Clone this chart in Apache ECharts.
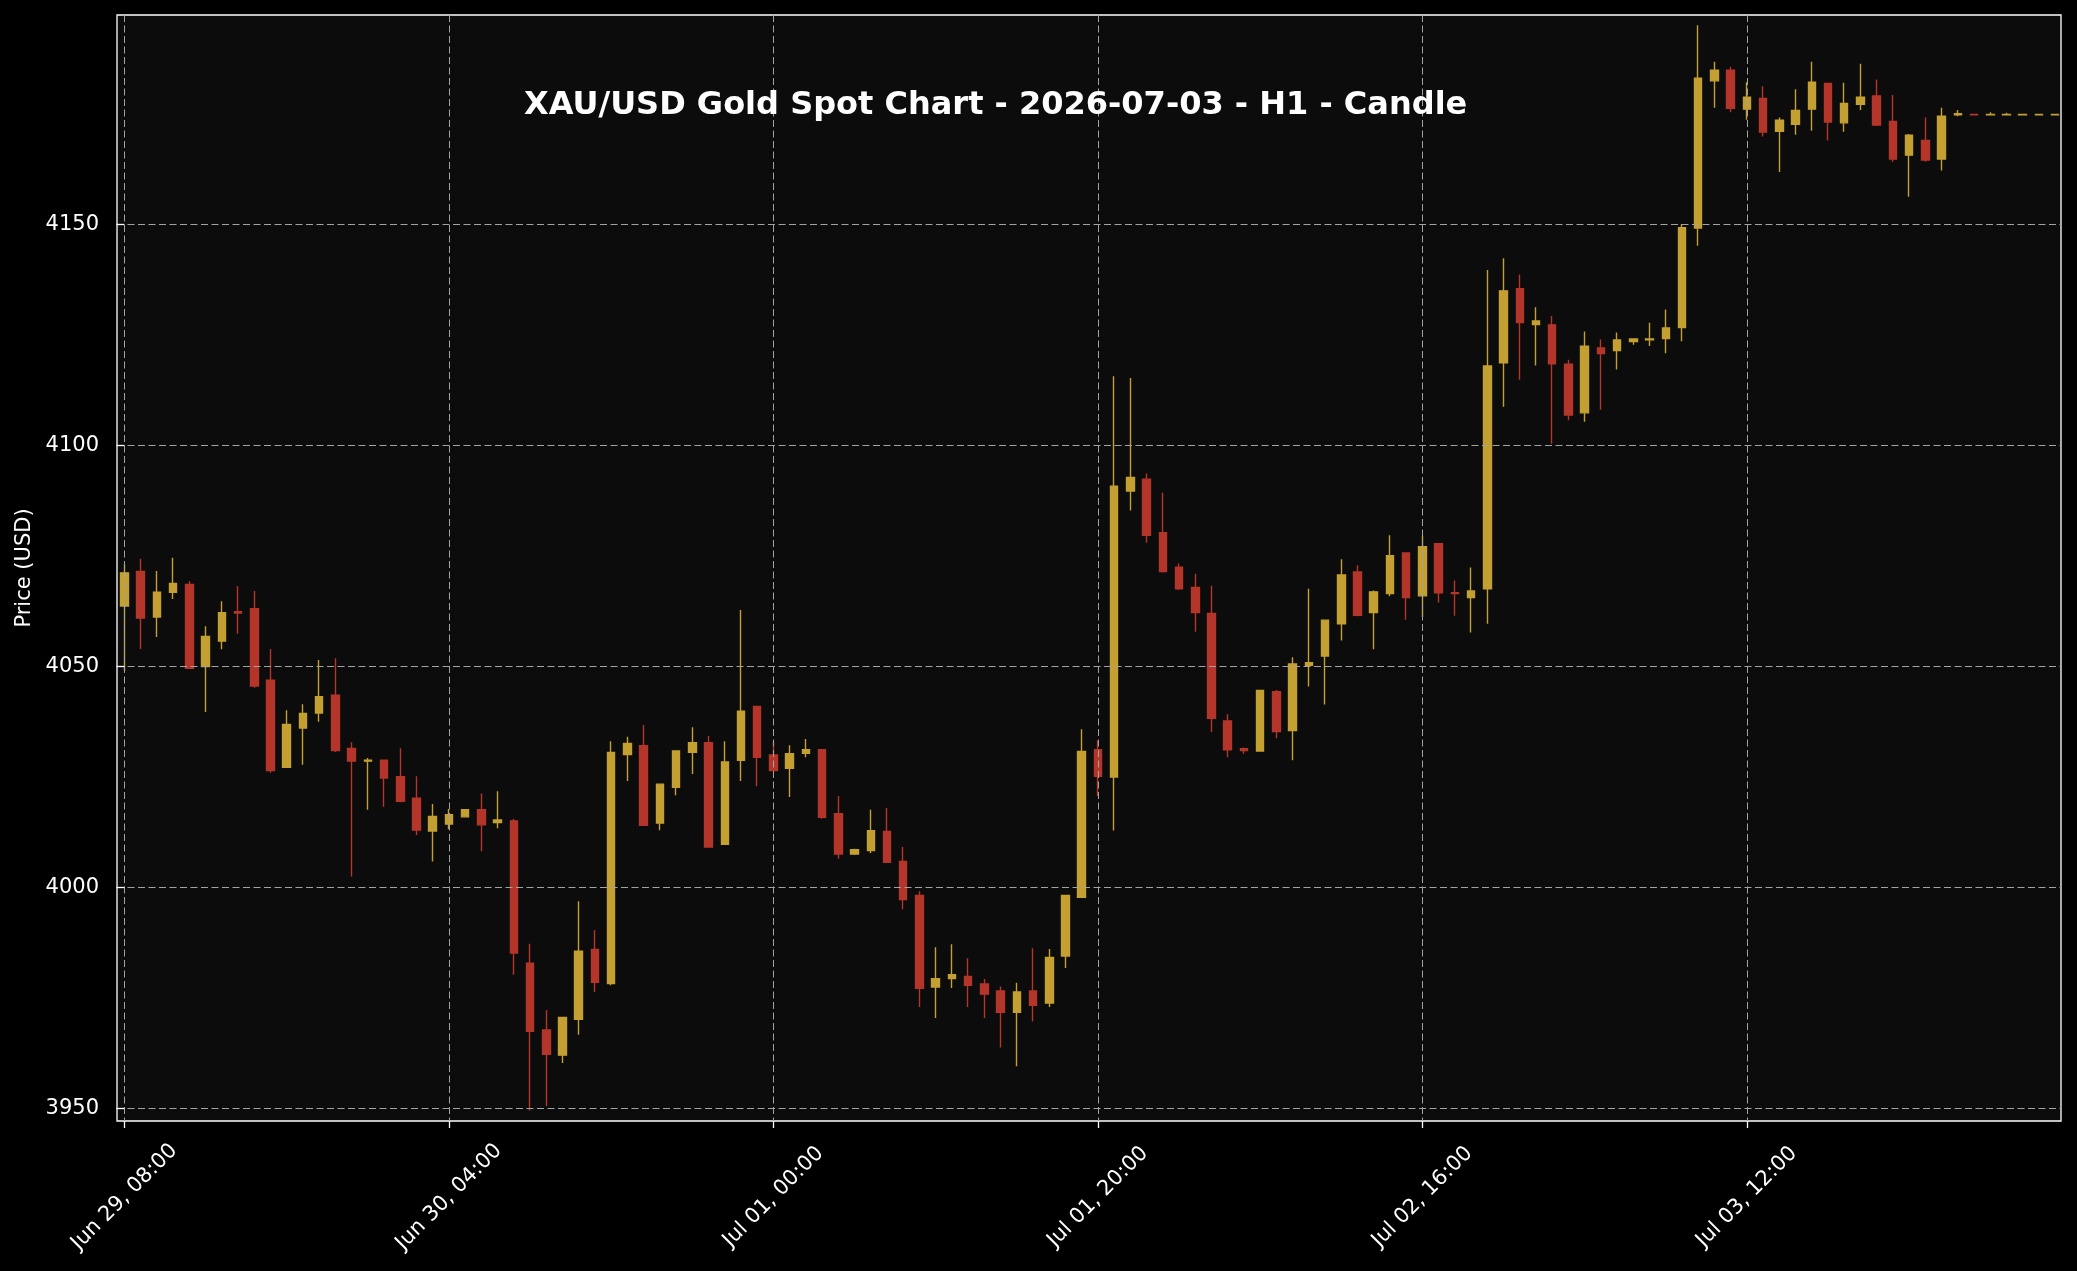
<!DOCTYPE html>
<html>
<head>
<meta charset="utf-8">
<title>XAU/USD Gold Spot Chart - H1</title>
<script src="https://cdn.jsdelivr.net/npm/echarts@6/dist/echarts.min.js"></script>
<style>
  html, body { margin: 0; padding: 0; background: #000; }
  #chart { width: 2077px; height: 1271px; }
</style>
</head>
<body>
<div id="chart"></div>
<script>
// hourly candles, index = hours since Jun 29 08:00
const opens = [
  4063.6, 4071.4, 4061.1, 4066.7, 4068.5, 4049.9, 4055.7, 4062.3, 4063.0, 4046.8,
  4027.1, 4036.0, 4039.4, 4043.4, 4031.4, 4028.5, 4028.7, 4025.0, 4020.1, 4012.7,
  4014.3, 4015.9, 4017.5, 4014.6, 4015.0, 3982.8, 3967.7, 3962.0, 3970.1, 3985.9,
  3978.2, 4030.0, 4032.0, 4014.5, 4022.6, 4030.5, 4032.7, 4009.7, 4028.7, 4040.9,
  4029.9, 4026.9, 4030.3, 4031.1, 4016.6, 4007.5, 4008.3, 4012.6, 4005.8, 3998.1,
  3977.4, 3979.3, 3979.8, 3978.1, 3976.5, 3971.7, 3976.5, 3973.8, 3984.4, 3997.7,
  4031.1, 4024.9, 4089.6, 4092.3, 4080.2, 4072.4, 4067.8, 4061.9, 4037.6, 4031.3,
  4030.8, 4044.2, 4035.4, 4050.2, 4052.3, 4059.6, 4071.3, 4062.1, 4066.4, 4075.6,
  4065.9, 4077.7, 4066.6, 4065.5, 4067.5, 4118.6, 4135.4, 4127.3, 4127.2, 4118.3,
  4107.3, 4122.0, 4121.4, 4123.4, 4123.8, 4124.1, 4126.6, 4149.1, 4182.4, 4184.8,
  4176.0, 4178.4, 4171.0, 4172.6, 4176.0, 4181.8, 4172.9, 4177.1, 4179.0, 4173.2,
  4165.6, 4168.9, 4164.7, 4174.7, 4174.8, 4174.7, 4174.7, 4174.7, 4174.7, 4174.7
];
const closes = [
  4071.1, 4060.9, 4066.7, 4068.7, 4049.5, 4056.7, 4062.1, 4062.0, 4045.5, 4026.4,
  4036.8, 4039.3, 4043.1, 4030.9, 4028.5, 4028.7, 4024.7, 4019.4, 4012.9, 4016.0,
  4016.4, 4017.5, 4014.1, 4015.2, 3985.1, 3967.4, 3962.2, 3970.5, 3985.5, 3978.5,
  4030.5, 4032.5, 4014.0, 4023.3, 4030.8, 4032.7, 4009.1, 4028.3, 4039.8, 4029.4,
  4026.4, 4030.2, 4031.1, 4015.8, 4007.5, 4008.5, 4012.8, 4005.6, 3997.2, 3977.1,
  3979.3, 3980.2, 3977.8, 3975.8, 3971.7, 3976.3, 3973.3, 3984.1, 3998.1, 4030.7,
  4025.1, 4090.7, 4092.7, 4079.6, 4071.4, 4067.5, 4062.1, 4038.2, 4031.1, 4030.9,
  4044.5, 4035.2, 4050.5, 4050.8, 4060.4, 4070.6, 4061.5, 4066.8, 4075.0, 4065.5,
  4077.0, 4066.6, 4066.4, 4067.0, 4117.9, 4134.9, 4127.7, 4128.1, 4118.4, 4106.8,
  4122.4, 4120.7, 4123.8, 4124.0, 4124.0, 4126.5, 4149.2, 4183.0, 4184.8, 4176.2,
  4178.7, 4170.8, 4173.5, 4175.7, 4182.1, 4173.1, 4177.3, 4178.7, 4172.4, 4164.7,
  4170.1, 4164.5, 4174.4, 4175.0, 4174.7, 4174.8, 4174.8, 4174.8, 4174.8, 4174.8
];
const lows = [
  4048.9, 4053.9, 4056.6, 4065.2, 4049.4, 4039.6, 4053.8, 4057.3, 4045.1, 4025.9,
  4027.0, 4027.7, 4037.4, 4030.6, 4002.4, 4017.5, 4018.2, 4019.2, 4011.8, 4005.8,
  4013.1, 4015.9, 4008.1, 4013.3, 3980.2, 3949.5, 3950.5, 3960.2, 3966.6, 3976.3,
  3977.8, 4024.0, 4014.0, 4012.9, 4020.8, 4025.6, 4008.9, 4009.6, 4024.0, 4022.8,
  4026.3, 4020.4, 4029.4, 4015.5, 4006.4, 4007.3, 4007.7, 4005.5, 3995.0, 3972.9,
  3970.4, 3977.2, 3972.9, 3970.4, 3963.7, 3959.5, 3969.6, 3972.9, 3981.7, 3997.6,
  4020.6, 4012.8, 4085.2, 4077.9, 4071.2, 4067.3, 4057.8, 4035.1, 4029.4, 4030.2,
  4030.7, 4033.7, 4028.7, 4045.4, 4041.3, 4055.8, 4061.3, 4053.8, 4065.8, 4060.5,
  4061.1, 4064.4, 4061.4, 4057.6, 4059.6, 4108.7, 4114.8, 4118.0, 4100.3, 4105.6,
  4105.3, 4108.0, 4117.1, 4122.7, 4122.4, 4120.8, 4123.5, 4145.1, 4176.3, 4175.3,
  4173.6, 4169.8, 4161.8, 4170.2, 4171.1, 4168.9, 4170.9, 4175.8, 4172.2, 4164.1,
  4156.2, 4164.1, 4162.1, 4174.4, 4174.6, 4174.7, 4174.7, 4174.7, 4174.7, 4174.7
];
const highs = [
  4073.0, 4074.3, 4071.5, 4074.5, 4069.2, 4059.0, 4064.7, 4068.1, 4067.0, 4053.9,
  4040.0, 4041.4, 4051.4, 4051.8, 4032.8, 4029.2, 4028.8, 4031.4, 4025.1, 4018.8,
  4017.7, 4017.7, 4021.2, 4021.7, 4015.4, 3987.2, 3972.2, 3970.7, 3996.8, 3990.3,
  4033.0, 4034.0, 4036.7, 4023.3, 4030.9, 4036.2, 4034.2, 4033.0, 4062.7, 4041.0,
  4033.0, 4032.1, 4033.5, 4031.1, 4020.6, 4008.7, 4017.5, 4017.9, 4009.1, 3999.1,
  3986.4, 3987.1, 3983.9, 3979.2, 3977.5, 3978.4, 3986.2, 3986.0, 3998.2, 4035.7,
  4033.2, 4115.6, 4115.2, 4093.6, 4089.2, 4073.2, 4070.9, 4068.2, 4039.1, 4031.6,
  4044.6, 4044.6, 4052.0, 4067.5, 4060.5, 4074.2, 4072.8, 4067.1, 4079.6, 4075.7,
  4079.5, 4077.7, 4069.4, 4072.3, 4139.6, 4142.3, 4138.6, 4131.2, 4129.2, 4119.3,
  4125.7, 4123.9, 4125.5, 4124.2, 4127.7, 4130.7, 4150.0, 4195.0, 4186.7, 4185.6,
  4182.1, 4181.2, 4174.1, 4180.5, 4186.7, 4181.8, 4182.0, 4186.3, 4182.7, 4179.2,
  4170.4, 4174.1, 4176.3, 4175.8, 4174.9, 4175.3, 4175.2, 4174.9, 4174.9, 4174.9
];

const xTickPositions = [0, 20, 40, 60, 80, 100];
const xTickLabels = ['Jun 29, 08:00', 'Jun 30, 04:00', 'Jul 01, 00:00', 'Jul 01, 20:00', 'Jul 02, 16:00', 'Jul 03, 12:00'];
const yTickValues = [3950, 4000, 4050, 4100, 4150];

const GOLD = '#c4a032';
const RED = '#b4352a';
const FONT = "'DejaVu Sans', sans-serif";
const GRID_LINE = { type: [7, 3.5], color: '#a3a3a3', width: 1 };

const candles = opens.map((o, i) => [i, o, closes[i], lows[i], highs[i]]);

const chart = echarts.init(document.getElementById('chart'));

chart.setOption({
  backgroundColor: '#000000',
  animation: false,
  title: {
    text: 'XAU/USD Gold Spot Chart - 2026-07-03 - H1 - Candle',
    left: 524,
    top: 90,
    padding: 0,
    textStyle: { color: '#ffffff', fontFamily: FONT, fontWeight: 'bold', fontSize: 32 },
  },
  grid: {
    left: 117, right: 16, top: 15, bottom: 150,
    containLabel: false,
    outerBoundsMode: 'none',
    show: true,
    backgroundColor: '#0c0c0c',
    borderColor: '#ffffff',
    borderWidth: 1.3,
  },
  xAxis: {
    type: 'value',
    min: -0.46,
    max: 119.36,
    z: 3,
    axisLine: { show: false },
    axisTick: {
      show: true, length: 7, customValues: xTickPositions,
      lineStyle: { color: '#ffffff', width: 1.3 },
    },
    axisLabel: {
      customValues: xTickPositions,
      formatter: v => xTickLabels[xTickPositions.indexOf(v)],
      rotate: 45,
      align: 'center',
      verticalAlign: 'middle',
      margin: 76,
      color: '#ffffff',
      fontFamily: FONT,
      fontSize: 21,
    },
    splitLine: { show: true, lineStyle: GRID_LINE },
  },
  yAxis: {
    type: 'value',
    min: 3947.1,
    max: 4197.3,
    z: 3,
    name: 'Price (USD)',
    nameLocation: 'middle',
    nameRotate: 90,
    nameGap: 74,
    nameTextStyle: { color: '#ffffff', fontFamily: FONT, fontSize: 21 },
    axisLine: { show: false },
    axisTick: {
      show: true, length: 8, customValues: yTickValues,
      lineStyle: { color: '#ffffff', width: 1.3 },
    },
    axisLabel: {
      customValues: yTickValues,
      formatter: v => String(v),
      margin: 18,
      color: '#ffffff',
      fontFamily: FONT,
      fontSize: 21,
    },
    splitLine: { show: true, lineStyle: GRID_LINE },
  },
  series: [{
    type: 'candlestick',
    data: candles,
    encode: { x: 0, y: [1, 2, 3, 4] },
    barWidth: 8,
    itemStyle: {
      color: GOLD,
      color0: RED,
      borderColor: GOLD,
      borderColor0: RED,
      borderWidth: 1.4,
    },
  }],
});
</script>
</body>
</html>
